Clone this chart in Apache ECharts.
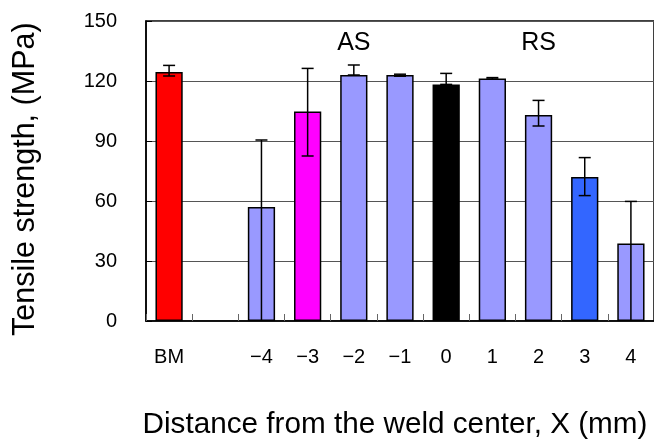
<!DOCTYPE html>
<html><head><meta charset="utf-8">
<script src="https://cdn.jsdelivr.net/npm/echarts@6/dist/echarts.min.js"></script>
<style>html,body{margin:0;padding:0;background:#fff}#c{width:654px;height:439px}</style>
</head><body><div id="c"></div>
<script>
const categories = ['BM', '', '\u22124', '\u22123', '\u22122', '\u22121', '0', '1', '2', '3', '4'];
const strength   = [124.5, null, 57, 104.8, 123, 123, 118.3, 121.3, 103, 72, 38.7];
const errHigh    = [127.8, null, 90.5, 126.3, 128, 123.4, 123.8, 121.7, 110.3, 81.7, 59.8];
const errLow     = [122.5, null, 0, 82.5, 123, 122.4, 118.3, 121.0, 97.5, 62.7, 0];
const barColors  = ['#FF0000', null, '#9999FF', '#FF00FF', '#9999FF', '#9999FF', '#000000', '#9999FF', '#9999FF', '#3366FF', '#9999FF'];
const yTicks     = [0, 30, 60, 90, 120, 150];
const annotCats  = ['\u22122', '2'];
const annotVals  = [139, 139];
const annotText  = ['AS', 'RS'];

const FONT = 'Liberation Sans, Arial, sans-serif';
const chart = echarts.init(document.getElementById('c'), null, {renderer: 'canvas'});

const barData = strength.map((v, i) => v == null ? null : ({
  value: v, itemStyle: {color: barColors[i]}
}));
const errData = categories.map((c, i) => strength[i] == null ? null : [i, errLow[i], errHigh[i]]).filter(d => d);

chart.setOption({
  animation: false,
  grid: {left: 146, top: 21, width: 509, height: 300, show: true, borderColor: '#000', borderWidth: 1.5, backgroundColor: 'transparent'},
  xAxis: {
    type: 'category', data: categories,
    axisLine: {lineStyle: {color: '#000', width: 1.5}},
    axisTick: {show: true, inside: true, length: 7, interval: 0, lineStyle: {color: '#666', width: 1}},
    axisLabel: {color: '#000', fontSize: 20, fontFamily: FONT, margin: 26, interval: 0},
    splitLine: {show: false}
  },
  yAxis: {
    type: 'value', min: yTicks[0], max: yTicks[yTicks.length - 1], interval: 30,
    axisLine: {show: true, lineStyle: {color: '#000', width: 1.5}},
    axisTick: {show: true, inside: true, length: 6, lineStyle: {color: '#000'}},
    axisLabel: {color: '#000', fontSize: 20, fontFamily: FONT, margin: 29},
    splitLine: {show: true, lineStyle: {color: '#555', width: 1}}
  },
  graphic: [
    {type: 'text', x: 395, y: 410, style: {text: 'Distance from the weld center, X (mm)', font: '29.7px ' + FONT, fill: '#000', textAlign: 'center', textVerticalAlign: 'top'}},
    {type: 'text', rotation: Math.PI / 2, x: 10, y: 336, style: {text: 'Tensile strength, (MPa)', font: '30.5px ' + FONT, fill: '#000', textVerticalAlign: 'top'}}
  ],
  series: [
    {
      type: 'bar', data: barData, barWidth: '59%',
      itemStyle: {borderColor: '#000', borderWidth: 1.5},
      z: 2
    },
    {
      type: 'custom', z: 3,
      data: errData,
      renderItem: function (params, api) {
        const x = api.value(0);
        const lo = api.coord([x, api.value(1)]);
        const hi = api.coord([x, api.value(2)]);
        const hw = 6;
        const style = {stroke: '#000', lineWidth: 1.5};
        const children = [
          {type: 'line', shape: {x1: hi[0], y1: hi[1], x2: lo[0], y2: lo[1]}, style: style},
          {type: 'line', shape: {x1: hi[0] - hw, y1: hi[1], x2: hi[0] + hw, y2: hi[1]}, style: style}
        ];
        if (api.value(1) > 0) {
          children.push({type: 'line', shape: {x1: lo[0] - hw, y1: lo[1], x2: lo[0] + hw, y2: lo[1]}, style: style});
        }
        return {type: 'group', children: children};
      }
    },
    {
      type: 'scatter', symbolSize: 0, z: 4, silent: true,
      itemStyle: {opacity: 1},
      data: annotCats.map((c, i) => ({value: [c, annotVals[i]], label: {show: true, formatter: annotText[i]}})),
      label: {position: 'inside', color: '#000', fontSize: 25, fontFamily: FONT, textBorderWidth: 0}
    }
  ]
});
</script></body></html>
